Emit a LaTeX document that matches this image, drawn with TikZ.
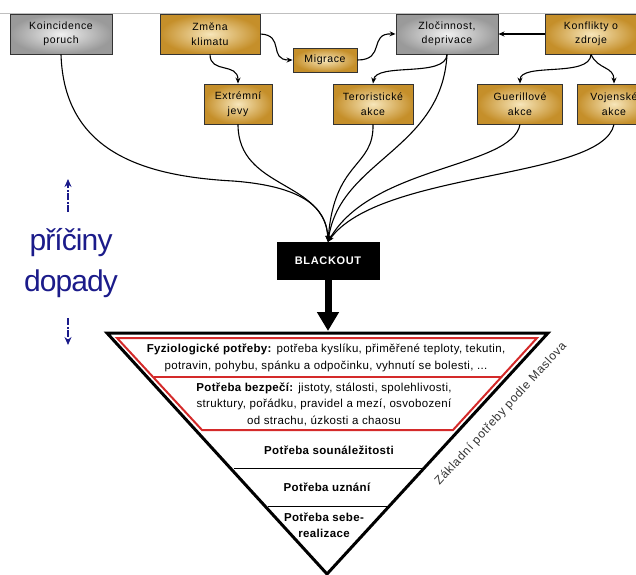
\documentclass[tikz,border=0pt]{standalone}
\usepackage{fontspec}
\setmainfont{Liberation Sans}
\newfontfamily\boxfont[LetterSpace=6]{Liberation Sans}
\newfontfamily\needfont[LetterSpace=3]{Liberation Sans}
\newfontfamily\bigfont[LetterSpace=-3]{Liberation Sans}
\usetikzlibrary{arrows.meta}
\definecolor{Gold}{HTML}{C58F2A}
\definecolor{GoldLight}{HTML}{F7E6BA}
\definecolor{Grey}{HTML}{9A9A9A}
\definecolor{GreyLight}{HTML}{F0F0F0}
\definecolor{Navy}{HTML}{1B1B8A}
\definecolor{NeedRed}{HTML}{D42A2A}

\begin{document}
\begin{tikzpicture}[x=1pt, y=-1pt,
    cause/.style={rectangle, draw=black!80, line width=0.9pt, inner color=GoldLight, outer color=Gold, minimum height=40pt, align=center, inner sep=1pt, font=\boxfont\fontsize{10.5}{14.5}\selectfont},
    greycause/.style={cause, inner color=GreyLight, outer color=Grey},
    link/.style={-{Stealth[length=6pt, width=5pt]}, line width=1.1pt},
    need/.style={align=center, inner sep=0pt, font=\needfont\fontsize{11.5}{17}\selectfont},
    dir/.style={-{Stealth[length=8pt, width=7pt]}, line width=1.5pt, draw=Navy, dash pattern=on 7pt off 1.5pt on 2pt off 1.5pt}
]
\useasboundingbox (0,0) rectangle (636,574);
\draw[black!25, line width=1pt] (0,13) -- (636,13);

% causes
\node[greycause, minimum width=102pt] (koinc) at (61,34) {Koincidence\\poruch};
\node[cause, minimum width=100pt] (zmena) at (210,34) {Změna\\klimatu};
\node[cause, minimum width=64pt, minimum height=24pt] (migrace) at (325,60) {Migrace};
\node[greycause, minimum width=102pt] (zlocin) at (447,34) {Zločinnost,\\deprivace};
\node[cause, minimum width=92pt] (konflikt) at (591,34) {Konflikty o\\zdroje};
\node[cause, minimum width=68pt] (extrem) at (238,104) {Extrémní\\jevy};
\node[cause, minimum width=80pt] (teror) at (373,104) {Teroristické\\akce};
\node[cause, minimum width=85pt] (guer) at (520,104) {Guerillové\\akce};
\node[cause, minimum width=74pt] (vojen) at (614,104) {Vojenské\\akce};
\node[fill=black, text=white, minimum width=103pt, minimum height=38pt, font=\boxfont\bfseries\fontsize{11}{13}\selectfont] (blackout) at (328,261) {BLACKOUT};

\draw[link] (zmena.east) .. controls (285,35) and (268,60) .. (migrace.west);
\draw[link] (migrace.east) .. controls (386,60) and (368,33) .. (zlocin.west);
\draw[link] (konflikt.west) -- (zlocin.east);
\draw[link] (zmena.south) .. controls (210,74) and (238,62) .. (extrem.north);
\draw[link] (zlocin.south) .. controls (446,78) and (376,62) .. (teror.north);
\draw[link] (konflikt.south) .. controls (590,78) and (520,62) .. (guer.north);
\draw[link] (konflikt.south) .. controls (598,70) and (614,66) .. (vojen.north);

% everything ends in the blackout
\draw[link] (koinc.south) .. controls (64,150) and (140,176) .. (233,181) .. controls (300,186) and (327,206) .. (blackout.north);
\draw[link] (extrem.south) .. controls (238,190) and (326,180) .. (blackout.north);
\draw[link] (teror.south) .. controls (374,168) and (334,160) .. (blackout.north);
\draw[link] (zlocin.south) .. controls (442,150) and (340,160) .. (blackout.north);
\draw[link] (guer.south) .. controls (512,168) and (372,165) .. (blackout.north);
\draw[link] (vojen.south) .. controls (602,180) and (380,170) .. (blackout.north);

\coordinate (ptop) at (328,331);
\draw[line width=7pt, -{Triangle[length=19pt, width=21pt]}] (blackout.south) -- (ptop);

% left labels
\node[text=Navy, font=\bigfont\fontsize{30}{31}\selectfont, inner sep=0pt] (priciny) at (71,243) {příčiny};
\node[text=Navy, font=\bigfont\fontsize{30}{31}\selectfont, inner sep=0pt] (dopady) at (71,284) {dopady};
\coordinate (upS) at (68,212);
\coordinate (upE) at (68,179);
\coordinate (dnS) at (68,318);
\coordinate (dnE) at (68,345);
\draw[dir] (upS) -- (upE);
\draw[dir] (dnS) -- (dnE);

% Maslow pyramid, upside down
\coordinate (tl) at (107,333);
\coordinate (tr) at (548,333);
\coordinate (apex) at (327,574);
\draw[NeedRed, line width=2pt, line join=miter] (117,338) -- (537,338) -- (453,430) -- (202,430) -- cycle;
\draw[NeedRed, line width=2pt] (154,377) -- (501,377);
\draw[line width=1pt] (234,468) -- (422,468);
\draw[line width=1pt] (268,506) -- (388,506);
\draw[line width=3pt, line join=miter] (tl) -- (tr) -- (apex) -- cycle;

\node[need] (p1) at (326,358) {\textbf{Fyziologické potřeby:} potřeba kyslíku, přiměřené teploty, tekutin,\\potravin, pohybu, spánku a odpočinku, vyhnutí se bolesti, ...};
\node[need, font=\needfont\fontsize{11.5}{16.5}\selectfont] (p2) at (324,404) {\textbf{Potřeba bezpečí:} jistoty, stálosti, spolehlivosti,\\struktury, pořádku, pravidel a mezí, osvobození\\od strachu, úzkosti a chaosu};
\node[need, font=\needfont\bfseries\fontsize{11.5}{17}\selectfont] (p3) at (329,450) {Potřeba sounáležitosti};
\node[need, font=\needfont\bfseries\fontsize{11.5}{17}\selectfont] (p4) at (327,487) {Potřeba uznání};
\node[need, font=\needfont\bfseries\fontsize{11.5}{16}\selectfont] (p5) at (324,525) {Potřeba sebe-\\realizace};
\node[rotate=47.6, text=black!80, font=\boxfont\fontsize{12}{13}\selectfont, inner sep=0pt] (maslow) at (501,414) {Základní potřeby podle Maslova};
\end{tikzpicture}
\end{document}
